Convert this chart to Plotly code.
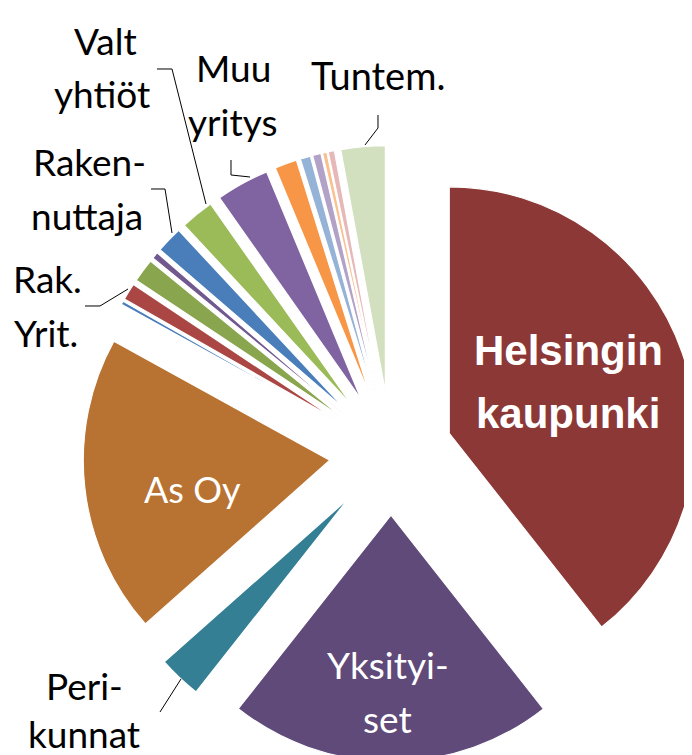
import plotly.graph_objects as go

# page body adds an 8px margin; the figure is laid out in screen pixels
OFF = 8
FW, FH = 700, 770

# ---- data (clockwise from 12 o'clock) ----
categories = ["Helsingin kaupunki", "Yksityiset", "Perikunnat", "As Oy",
              "Muu A", "Rak. Yrit.", "Muu B", "Muu C", "Rakennuttaja",
              "Valt yhtiöt", "Muu yritys", "Muu D", "Muu E", "Muu F",
              "Muu G", "Muu H", "Tuntem."]
shares = [39.39, 21.24, 2.82, 19.57,
          0.23, 1.10, 1.54, 0.44, 1.74,
          2.18, 3.48, 1.45, 0.67, 0.55,
          0.29, 0.41, 2.90]
slice_colors = ["#8C3836", "#5F4A7A", "#357F94", "#B87333",
                "#4A7EBB", "#AA4643", "#89A54E", "#71588F", "#4A7EBB",
                "#9BBB59", "#8064A2", "#F79646", "#95B3D7", "#B3A2C7",
                "#FAC090", "#E6B9B8", "#D3E0BF"]

PULL = 0.25
# pie placement in screen pixels: centre and radius
PCX, PCY, PR = 391, 453.5, 246.5


def px(sx, sy):
    return (sx - OFF) / FW, 1 - (sy - OFF) / FH


half = PR * (1 + PULL)
x0, y_top = px(PCX - half, PCY - half)
x1, y_bot = px(PCX + half, PCY + half)

fig = go.Figure(go.Pie(
    labels=categories,
    values=shares,
    sort=False,
    direction="clockwise",
    rotation=0,
    pull=[PULL] * len(shares),
    marker=dict(colors=slice_colors, line=dict(color="white", width=1.2)),
    textinfo="none",
    hoverinfo="label+percent",
    showlegend=False,
    domain=dict(x=[x0, x1], y=[y_bot, y_top]),
))

# ---- labels: (text, centre x, baseline y, font, size, colour, weight) ----
LATO = "Lato, Carlito, Calibri, sans-serif"
ARIAL = "Liberation Sans, Arial, sans-serif"
label_lines = [
    ("Valt", 105, 55, LATO, 37, "black", "normal"),
    ("yhtiöt", 102, 108, LATO, 37, "black", "normal"),
    ("Muu", 233, 82, LATO, 37, "black", "normal"),
    ("yritys", 232, 136, LATO, 37, "black", "normal"),
    ("Tuntem.", 378, 90, LATO, 38, "black", "normal"),
    ("Raken-", 89, 176, LATO, 37, "black", "normal"),
    ("nuttaja", 87, 230, LATO, 37, "black", "normal"),
    ("Rak.", 47, 293, LATO, 37, "black", "normal"),
    ("Yrit.", 46, 347, LATO, 37, "black", "normal"),
    ("Peri-", 84, 700, LATO, 37, "black", "normal"),
    ("kunnat", 84, 748, LATO, 37, "black", "normal"),
    ("As Oy", 192, 503, LATO, 36, "white", "normal"),
    ("Yksityi-", 388, 679, LATO, 37, "white", "normal"),
    ("set", 388, 733, LATO, 37, "white", "normal"),
    ("Helsingin", 568, 365, ARIAL, 42, "white", "bold"),
    ("kaupunki", 568, 428, ARIAL, 42, "white", "bold"),
]

annotations = []
for text, cx, base, fam, size, col, wt in label_lines:
    asc = 0.387 if fam == LATO else 0.347
    x, y = px(cx, base - asc * size)
    annotations.append(dict(
        text=text, x=x, y=y, xref="paper", yref="paper",
        xanchor="center", yanchor="middle", showarrow=False,
        font=dict(family=fam, size=size, color=col, weight=wt),
    ))

# ---- leader lines (screen-pixel polylines) ----
leaders = [
    [(378, 115), (378, 128), (365, 145)],
    [(231, 160), (231, 175), (250, 177)],
    [(157, 69), (172, 69), (206, 204)],
    [(151, 189), (165, 189), (172, 233)],
    [(85, 306), (100, 306), (128, 289)],
    [(181, 679), (160, 712)],
]
shapes = []
for pts in leaders:
    path = ""
    for i, (a, b) in enumerate(pts):
        fx, fy = px(a, b)
        path += ("M" if i == 0 else " L") + f" {fx:.5f} {fy:.5f}"
    shapes.append(dict(type="path", path=path, xref="paper", yref="paper",
                       line=dict(color="black", width=1)))

fig.update_layout(
    width=FW, height=FH,
    margin=dict(l=0, r=0, t=0, b=0),
    paper_bgcolor="white",
    plot_bgcolor="white",
    annotations=annotations,
    shapes=shapes,
)

fig.write_html("out.html")
